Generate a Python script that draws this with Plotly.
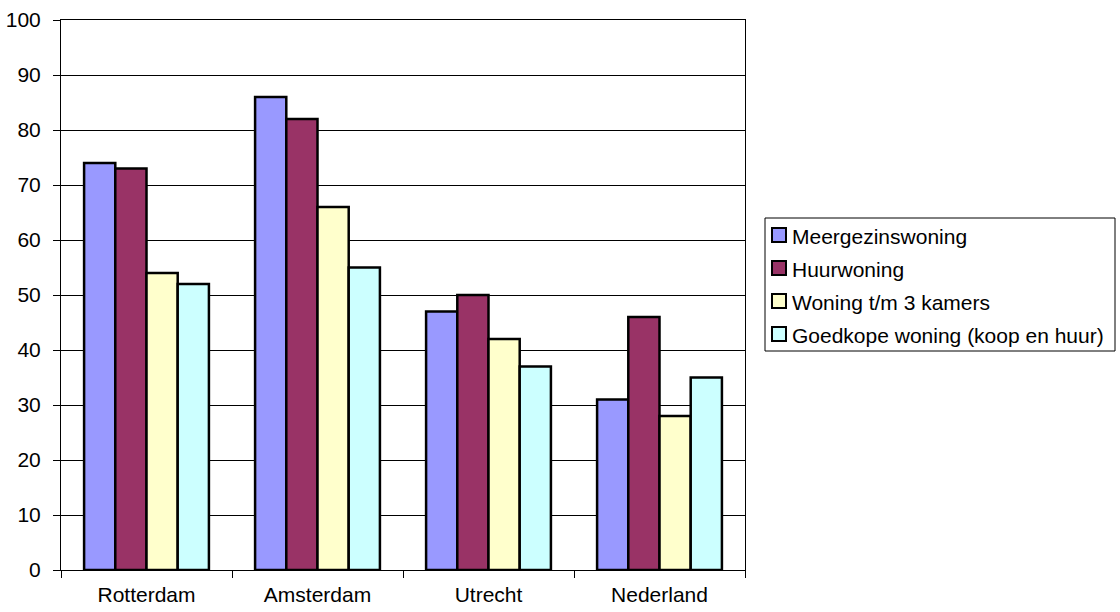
import plotly.graph_objects as go

steden = ["Rotterdam", "Amsterdam", "Utrecht", "Nederland"]
meergezinswoning = [74, 86, 47, 31]
huurwoning = [73, 82, 50, 46]
woning_3_kamers = [54, 66, 42, 28]
goedkope_woning = [52, 55, 37, 35]

reeksen = [
    ("Meergezinswoning", meergezinswoning, "#9999FF"),
    ("Huurwoning", huurwoning, "#993366"),
    ("Woning t/m 3 kamers", woning_3_kamers, "#FFFFCC"),
    ("Goedkope woning (koop en huur)", goedkope_woning, "#CCFFFF"),
]

W, H = 1120, 612
L, R, T, B = 61, 375, 20, 42
plot_w, plot_h = W - L - R, H - T - B


def px(x):
    """Pixel x -> paper x."""
    return (x - L) / plot_w


def py(y):
    """Pixel y (from top) -> paper y."""
    return (H - B - y) / plot_h


fig = go.Figure()
for naam, waarden, kleur in reeksen:
    fig.add_trace(go.Bar(
        x=steden, y=waarden, name=naam, showlegend=False,
        marker=dict(color=kleur, line=dict(color="black", width=2.5)),
    ))

# Legend box drawn as shapes + text, Excel style (small swatch, text right next to it)
shapes = [dict(type="rect", xref="paper", yref="paper",
               x0=px(765), x1=px(1115), y0=py(351), y1=py(218),
               line=dict(color="black", width=1), fillcolor="white", layer="above")]
annotations = []
rij_y = [235, 268, 301, 334]
for (naam, _, kleur), yc in zip(reeksen, rij_y):
    shapes.append(dict(type="rect", xref="paper", yref="paper",
                       x0=px(772), x1=px(786), y0=py(yc + 7), y1=py(yc - 7),
                       line=dict(color="black", width=2), fillcolor=kleur, layer="above"))
    annotations.append(dict(xref="paper", yref="paper", x=px(790), y=py(yc + 1),
                            xanchor="left", yanchor="middle", showarrow=False,
                            text=naam, font=dict(size=21, color="black")))

fig.update_layout(
    width=W, height=H,
    margin=dict(l=L, r=R, t=T, b=B, autoexpand=False),
    paper_bgcolor="white", plot_bgcolor="white",
    barmode="group", bargap=0.27, bargroupgap=0,
    font=dict(family="Liberation Sans, Arial", size=21, color="black"),
    showlegend=False,
    shapes=shapes, annotations=annotations,
)
fig.update_xaxes(
    automargin=False,
    showline=True, linecolor="black", linewidth=1, mirror=True,
    ticks="outside", ticklen=7, tickcolor="black",
    tickson="boundaries", showgrid=False, ticklabelstandoff=6,
)
fig.update_yaxes(
    automargin=False,
    range=[0, 100], dtick=10,
    showline=True, linecolor="black", linewidth=1, mirror=True,
    ticks="outside", ticklen=7, tickcolor="black", ticklabelstandoff=8,
    showgrid=True, gridcolor="black", gridwidth=1,
    zeroline=False,
)

fig.write_html("out.html")
